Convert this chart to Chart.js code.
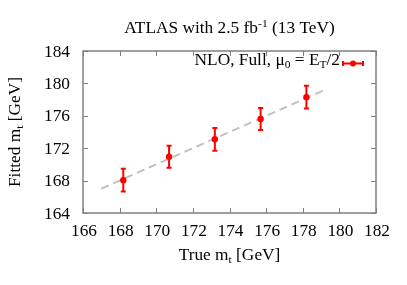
<!DOCTYPE html>
<html>
<head>
<meta charset="utf-8">
<script src="https://cdn.jsdelivr.net/npm/chart.js@4"></script>
<style>
html,body{margin:0;padding:0;background:#fff;}
#wrap{width:407px;height:285px;}
</style>
</head>
<body>
<div id="wrap"><canvas id="c" width="407" height="285"></canvas></div>
<script>
// ---- data ----
const trueMass   = [168.2, 170.7, 173.2, 175.7, 178.2];
const fittedMass = [168.05, 170.95, 173.1, 175.6, 178.3];
const fitErr     = [1.4, 1.35, 1.4, 1.35, 1.4];
const refLineX   = [167, 179.3];
const refLineY   = [167, 179.3];
const xTicks     = [166, 168, 170, 172, 174, 176, 178, 180, 182];
const yTicks     = [164, 168, 172, 176, 180, 184];

const FONT = '"Liberation Serif", "Times New Roman", serif';
const FRAME = '#808080';
const RED = '#ff0000';
const SX = 1.05; // slight horizontal stretch of text
const FS = 16.5;
const FSS = 11;

function drawRich(ctx, segs, x, y, align, base) {
  let w = 0;
  segs.forEach(s => { ctx.font = (s.size || base) + 'px ' + FONT; s.w = ctx.measureText(s.t).width * SX; w += s.w; });
  let cx = align === 'center' ? x - w / 2 : (align === 'right' ? x - w : x);
  ctx.textAlign = 'left';
  ctx.textBaseline = 'alphabetic';
  segs.forEach(s => {
    ctx.font = (s.size || base) + 'px ' + FONT;
    ctx.save();
    ctx.translate(cx, y + (s.dy || 0));
    ctx.scale(SX, 1);
    ctx.fillText(s.t, 0, 0);
    ctx.restore();
    cx += s.w;
  });
}

const customPlugin = {
  id: 'custom',
  beforeDatasetsDraw(chart) {
    const ctx = chart.ctx, xs = chart.scales.x, ys = chart.scales.y;
    ctx.save();
    ctx.strokeStyle = RED; ctx.lineWidth = 2;
    trueMass.forEach((m, i) => {
      const px = xs.getPixelForValue(m);
      const top = ys.getPixelForValue(fittedMass[i] + fitErr[i]);
      const bot = ys.getPixelForValue(fittedMass[i] - fitErr[i]);
      ctx.beginPath();
      ctx.moveTo(px, top); ctx.lineTo(px, bot);
      ctx.moveTo(px - 2.5, top); ctx.lineTo(px + 2.5, top);
      ctx.moveTo(px - 2.5, bot); ctx.lineTo(px + 2.5, bot);
      ctx.stroke();
    });
    ctx.restore();
  },
  afterDraw(chart) {
    const ctx = chart.ctx, a = chart.chartArea, xs = chart.scales.x, ys = chart.scales.y;
    ctx.save();
    // frame
    ctx.strokeStyle = FRAME; ctx.lineWidth = 1.5;
    ctx.strokeRect(a.left, a.top, a.right - a.left, a.bottom - a.top);
    // inside ticks
    ctx.lineWidth = 1;
    ctx.beginPath();
    xTicks.forEach(v => {
      const px = Math.round(xs.getPixelForValue(v)) + 0.5;
      ctx.moveTo(px, a.bottom); ctx.lineTo(px, a.bottom - 5);
      ctx.moveTo(px, a.top); ctx.lineTo(px, a.top + 5);
    });
    yTicks.forEach(v => {
      const py = Math.round(ys.getPixelForValue(v)) + 0.5;
      ctx.moveTo(a.left, py); ctx.lineTo(a.left + 5, py);
      ctx.moveTo(a.right, py); ctx.lineTo(a.right - 5, py);
    });
    ctx.stroke();
    // tick labels
    ctx.fillStyle = '#000';
    xTicks.forEach(v => drawRich(ctx, [{t: String(v)}], xs.getPixelForValue(v) + 1, 236, 'center', FS));
    yTicks.forEach(v => drawRich(ctx, [{t: String(v)}], a.left - 13, ys.getPixelForValue(v) + 5.5, 'right', FS));
    // titles
    const cxp = (a.left + a.right) / 2;
    drawRich(ctx, [{t: 'ATLAS with 2.5 fb'}, {t: '-1', size: FSS, dy: -6}, {t: ' (13 TeV)'}], cxp, 33, 'center', FS);
    drawRich(ctx, [{t: 'True m'}, {t: 't', size: FSS, dy: 3}, {t: ' [GeV]'}], cxp, 260, 'center', FS);
    ctx.save();
    ctx.translate(20, (a.top + a.bottom) / 2);
    ctx.rotate(-Math.PI / 2);
    drawRich(ctx, [{t: 'Fitted m'}, {t: 't', size: FSS, dy: 3}, {t: ' [GeV]'}], 0, 0, 'center', FS);
    ctx.restore();
    // legend
    drawRich(ctx, [{t: 'NLO, Full, \u03bc'}, {t: '0', size: FSS, dy: 3}, {t: ' = E'}, {t: 'T', size: FSS, dy: 3}, {t: '/2'}], 340, 65, 'right', FS);
    const ly = 63.5;
    ctx.strokeStyle = RED; ctx.lineWidth = 2;
    ctx.beginPath();
    ctx.moveTo(343, ly); ctx.lineTo(363, ly);
    ctx.moveTo(343, ly - 2.5); ctx.lineTo(343, ly + 2.5);
    ctx.moveTo(363, ly - 2.5); ctx.lineTo(363, ly + 2.5);
    ctx.stroke();
    ctx.fillStyle = RED;
    ctx.beginPath(); ctx.arc(353, ly, 3, 0, Math.PI * 2); ctx.fill();
    ctx.restore();
  }
};

new Chart(document.getElementById('c'), {
  type: 'scatter',
  data: {
    datasets: [
      {
        type: 'line',
        order: 2,
        data: refLineX.map((x, i) => ({x, y: refLineY[i]})),
        borderColor: '#c0c0c0',
        borderWidth: 2,
        borderDash: [8, 5],
        pointRadius: 0,
        fill: false
      },
      {
        order: 1,
        data: trueMass.map((x, i) => ({x, y: fittedMass[i]})),
        backgroundColor: RED,
        borderColor: RED,
        pointRadius: 3.2,
        pointBorderWidth: 0
      }
    ]
  },
  options: {
    responsive: false,
    animation: false,
    layout: {padding: {left: 0, right: 31, top: 51, bottom: 0}},
    plugins: {legend: {display: false}, tooltip: {enabled: false}, title: {display: false}},
    scales: {
      x: {
        type: 'linear', min: 166, max: 182,
        afterBuildTicks: s => { s.ticks = xTicks.map(v => ({value: v})); },
        afterFit: s => { s.height = 72; },
        grid: {display: false, drawTicks: false},
        border: {display: false},
        ticks: {display: false}
      },
      y: {
        type: 'linear', min: 164, max: 184,
        afterBuildTicks: s => { s.ticks = yTicks.map(v => ({value: v})); },
        afterFit: s => { s.width = 83; },
        grid: {display: false, drawTicks: false},
        border: {display: false},
        ticks: {display: false}
      }
    }
  },
  plugins: [customPlugin]
});
</script>
</body>
</html>
